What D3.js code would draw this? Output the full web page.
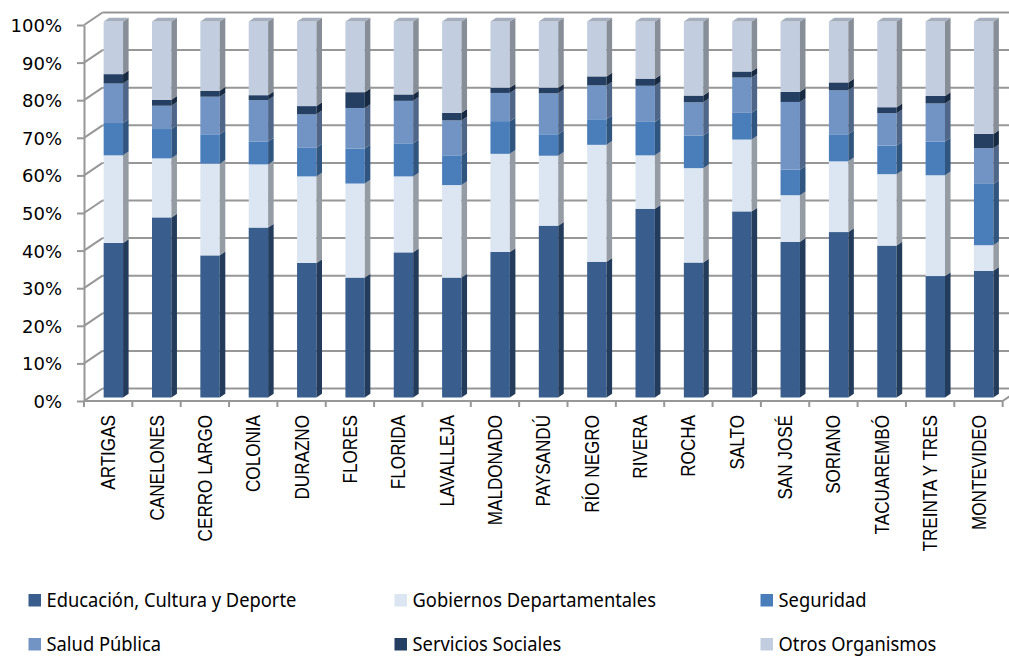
<!DOCTYPE html>
<html>
<head>
<meta charset="utf-8">
<script src="https://cdn.jsdelivr.net/npm/d3@7"></script>
<style>
  html, body { margin: 0; padding: 0; background: #ffffff; }
  svg { display: block; }
</style>
</head>
<body>
<svg id="chart" width="1009" height="658"></svg>
<script>
const categories = ["ARTIGAS", "CANELONES", "CERRO LARGO", "COLONIA", "DURAZNO", "FLORES", "FLORIDA", "LAVALLEJA", "MALDONADO", "PAYSANDÚ", "RÍO NEGRO", "RIVERA", "ROCHA", "SALTO", "SAN JOSÉ", "SORIANO", "TACUAREMBÓ", "TREINTA Y TRES", "MONTEVIDEO"];
const seriesNames = ["Educación, Cultura y Deporte", "Gobiernos Departamentales", "Seguridad", "Salud Pública", "Servicios Sociales", "Otros Organismos"];
const educacion  = [41.1, 47.9, 37.8, 45.2, 35.8, 31.9, 38.6, 31.9, 38.7, 45.7, 36.1, 50.2, 35.9, 49.5, 41.4, 44.0, 40.4, 32.3, 33.7];
const gobiernos  = [23.3, 15.7, 24.4, 16.8, 23.0, 25.0, 20.2, 24.6, 26.1, 18.6, 31.1, 14.2, 25.1, 19.1, 12.4, 18.8, 19.0, 26.8, 6.8];
const seguridad  = [8.6, 7.8, 7.8, 6.1, 7.6, 9.3, 8.8, 7.9, 8.7, 5.7, 6.8, 8.9, 8.7, 7.1, 6.8, 7.2, 7.6, 9.0, 16.3];
const salud      = [10.5, 6.2, 10.0, 11.0, 8.9, 10.8, 11.3, 9.3, 7.5, 10.9, 9.0, 9.6, 8.8, 9.4, 18.0, 11.7, 8.6, 10.1, 9.5];
const servicios  = [2.5, 1.6, 1.6, 1.3, 2.2, 4.2, 1.7, 2.0, 1.4, 1.5, 2.4, 1.9, 1.8, 1.6, 2.7, 2.1, 1.6, 2.0, 3.8];
const otros      = [14.0, 20.8, 18.4, 19.6, 22.5, 18.8, 19.4, 24.3, 17.6, 17.6, 14.6, 15.2, 19.7, 13.3, 18.7, 16.2, 22.8, 19.8, 29.9];
const yTickValues = [0, 0.1, 0.2, 0.3, 0.4, 0.5, 0.6, 0.7, 0.8, 0.9, 1.0];

const frontColors = ["#395e8d", "#dce6f2", "#4a7ebb", "#7294c4", "#243f61", "#c3cde0"];
const sideColors  = ["#243c5b", "#959ca4", "#30557f", "#4f6688", "#172a42", "#878e98"];
const topColor = "#a5afbe";
const gridColor = "#979797";

const seriesArrays = [educacion, gobiernos, seguridad, salud, servicios, otros];
const table = categories.map((c, i) => {
  const row = { cat: c };
  seriesNames.forEach((s, k) => row[s] = seriesArrays[k][i]);
  return row;
});
const stacked = d3.stack().keys(seriesNames).offset(d3.stackOffsetExpand)(table);

const svg = d3.select("#chart");
svg.append("rect").attr("width", 1009).attr("height", 658).attr("fill", "#fff");

const depthX = 18.5, depthY = -12.5;
const f1 = 0.28, f2 = 0.58;
const x = d3.scaleBand().domain(categories).range([84, 84 + 19 * 48.35]).padding(0);
const yFront = d3.scaleLinear().domain([0, 1]).range([401, 25]);
const yBack = v => yFront(v) + depthY;
const yBar = v => yFront(v) + depthY * f1;
const barW = 19.4;
const barX = c => x(c) + depthX * f1 + (x.bandwidth() - barW) / 2;
const x0 = x.range()[0], x1 = x.range()[1];

const grid = svg.append("g").attr("stroke", gridColor).attr("stroke-width", 2).attr("fill", "none");
yTickValues.forEach(v => {
  grid.append("line").attr("x1", x0 + depthX).attr("x2", x1 + depthX + 20)
    .attr("y1", yBack(v)).attr("y2", yBack(v));
  grid.append("line").attr("x1", x0).attr("y1", yFront(v))
    .attr("x2", x0 + depthX).attr("y2", yBack(v));
});
grid.append("line").attr("x1", x0).attr("x2", x1).attr("y1", yFront(0)).attr("y2", yFront(0));
grid.append("line").attr("x1", x1).attr("y1", yFront(0)).attr("x2", x1 + depthX).attr("y2", yBack(0));

// y axis
const yAxis = d3.axisLeft(yFront).tickValues(yTickValues).tickFormat(d3.format(".0%"))
  .tickSizeInner(7).tickSizeOuter(0).tickPadding(15);
const yg = svg.append("g").attr("transform", `translate(${x0},0)`).call(yAxis);
yg.select(".domain").attr("stroke", gridColor).attr("stroke-width", 2);
yg.selectAll(".tick line").attr("stroke", gridColor).attr("stroke-width", 2);
yg.selectAll(".tick text").attr("font-family", "DejaVu Sans, Verdana, sans-serif")
  .attr("font-size", 18).attr("fill", "#000").attr("dy", "0.36em");

// x axis ticks at band boundaries
const bounds = categories.map(c => x(c)).concat([x1]);
svg.append("g").selectAll("line").data(bounds).join("line")
  .attr("x1", d => d).attr("x2", d => d)
  .attr("y1", yFront(0)).attr("y2", yFront(0) + 6)
  .attr("stroke", gridColor).attr("stroke-width", 2);

// x labels (narrow sans, rotated)
svg.append("g").selectAll("text").data(categories).join("text")
  .attr("transform", c => `translate(${x(c) + x.bandwidth() / 2 - 0.5},415) rotate(-90) scale(0.815,1)`)
  .attr("text-anchor", "end").attr("dy", "0.36em")
  .attr("font-family", "Liberation Sans, Arial, sans-serif").attr("font-size", 21)
  .attr("fill", "#000").text(c => c);

// bars
const dX = depthX * (f2 - f1), dY = depthY * (f2 - f1);
const barsG = svg.append("g");
categories.forEach((c, i) => {
  const bx = barX(c);
  stacked.forEach((layer, k) => {
    const [a, b] = layer[i];
    const yt = yBar(b), yb = yBar(a);
    const g = barsG.append("g");
    g.append("rect").attr("x", bx).attr("y", yt).attr("width", barW).attr("height", yb - yt)
      .attr("fill", frontColors[k]);
    g.append("path").attr("d", `M${bx + barW},${yt} L${bx + barW + dX},${yt + dY} L${bx + barW + dX},${yb + dY} L${bx + barW},${yb} Z`)
      .attr("fill", sideColors[k]);
    if (k === stacked.length - 1) {
      g.append("path").attr("d", `M${bx},${yt} L${bx + dX},${yt + dY} L${bx + barW + dX},${yt + dY} L${bx + barW},${yt} Z`)
        .attr("fill", topColor);
    }
  });
});

// legend
const legendPos = [[28.5, 594], [394.5, 594], [760.5, 594], [28.5, 638], [394.5, 638], [760.5, 638]];
const lg = svg.append("g");
const items = seriesNames.map((s, k) => {
  const [lx, ly] = legendPos[k];
  lg.append("rect").attr("x", lx).attr("y", ly).attr("width", 12.5).attr("height", 12.5).attr("fill", frontColors[k]);
  const t = lg.append("text").attr("font-family", "Noto Sans, Open Sans, sans-serif").attr("font-size", 20)
    .attr("fill", "#000").text(s);
  return { t, lx: lx + 18, ly: ly + 12.5 };
});
const firstW = items[0].t.node().getComputedTextLength();
const sx = 250 / firstW;
items.forEach(({ t, lx, ly }) => t.attr("transform", `translate(${lx},${ly}) scale(${sx},1)`));
</script>
</body>
</html>
